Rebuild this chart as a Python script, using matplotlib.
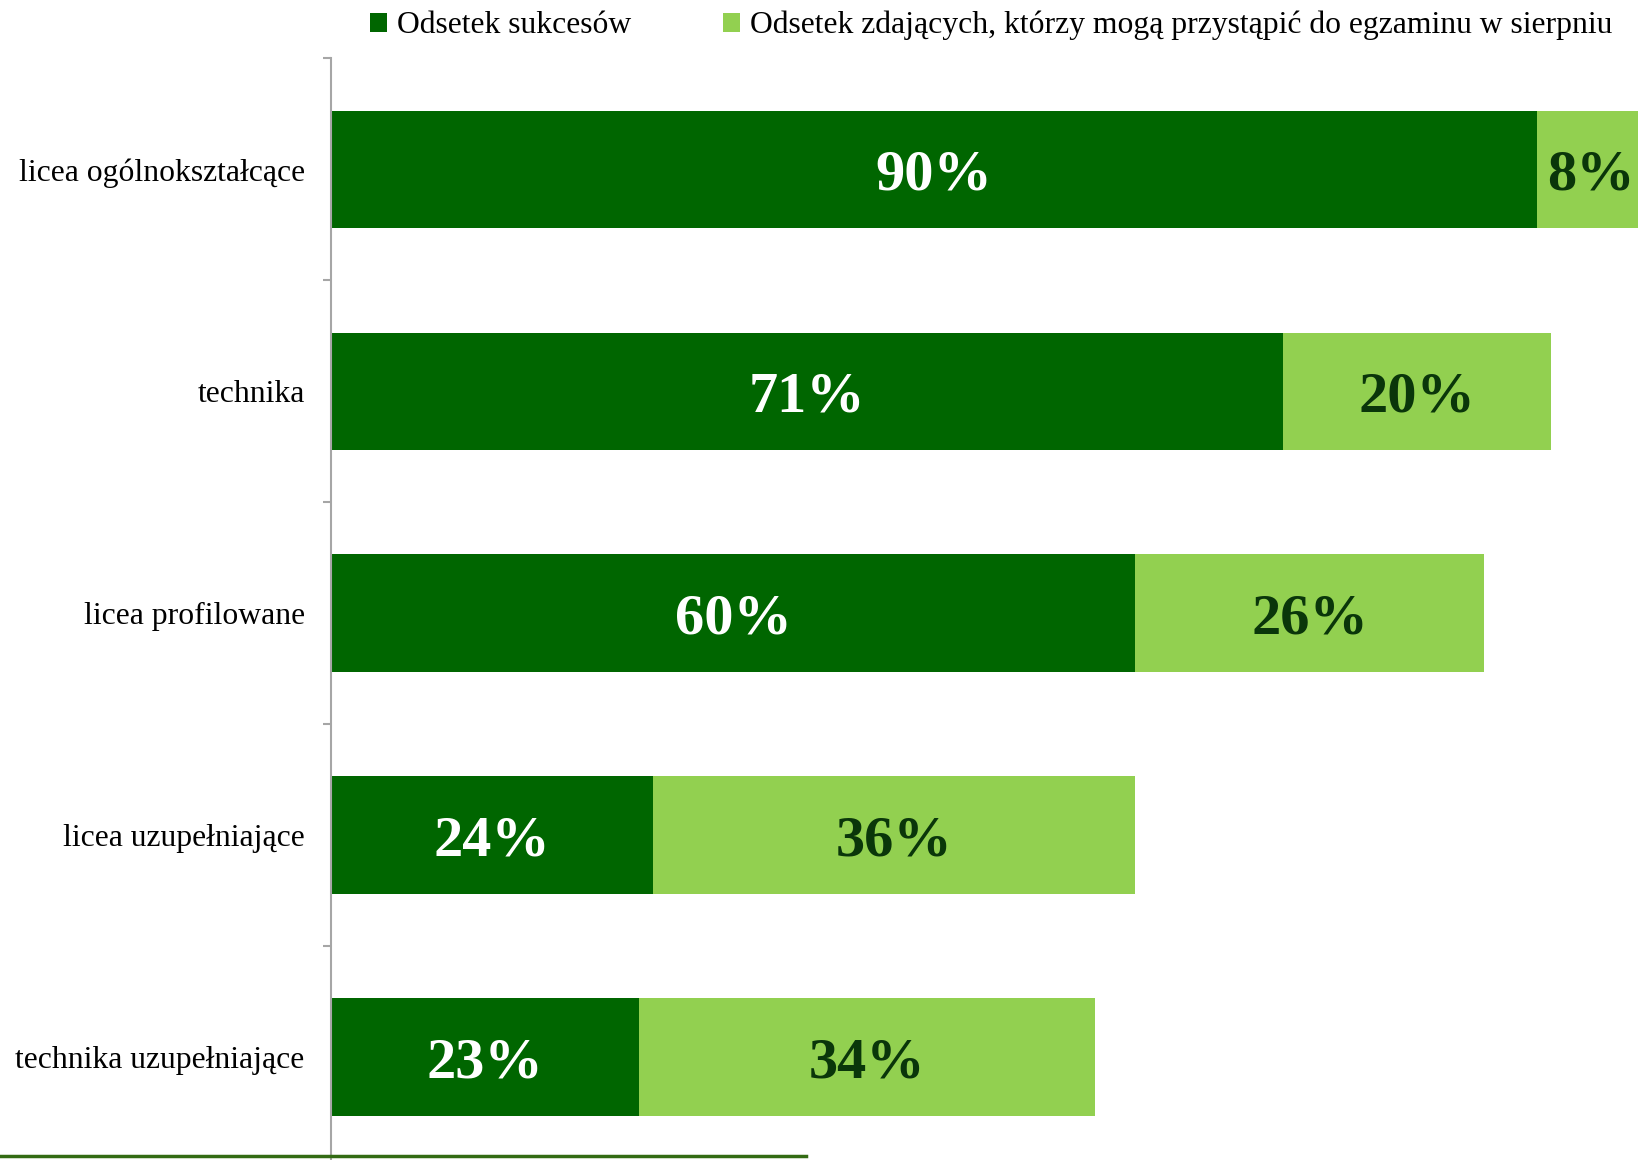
import matplotlib.pyplot as plt
from matplotlib.patches import Patch
from matplotlib.lines import Line2D

# Data
categories = ["licea ogólnokształcące", "technika", "licea profilowane",
              "licea uzupełniające", "technika uzupełniające"]
success = [90, 71, 60, 24, 23]
august = [8, 20, 26, 36, 34]
series_names = ["Odsetek sukcesów",
                "Odsetek zdających, którzy mogą przystąpić do egzaminu w sierpniu"]

DARK = "#006600"
LIGHT = "#92d050"

plt.rcParams["font.family"] = ["Liberation Serif", "DejaVu Serif"]

fig = plt.figure(figsize=(16.38, 11.60), dpi=100)
ax = fig.add_axes([0.2021, -0.0069, 0.7979, 0.9565])

y = range(len(categories))
ax.barh(y, success, height=0.53, color=DARK)
ax.barh(y, august, left=success, height=0.53, color=LIGHT)

for i, (s, a) in enumerate(zip(success, august)):
    ax.text(s / 2, i, f"{s}%", ha="center", va="center_baseline", color="white",
            fontsize=42, fontweight="bold")
    ax.text(s + a / 2, i, f"{a}%", ha="center", va="center_baseline",
            color="#0a360a", fontsize=42, fontweight="bold")

ax.set_xlim(0, 97.5)
ax.set_ylim(len(categories) - 0.5, -0.5)
ax.set_yticks(list(y))
ax.set_yticklabels(categories, fontsize=22.8)
ax.tick_params(axis="y", which="major", length=0, pad=19)
ax.set_yticks([i - 0.5 for i in range(len(categories) + 1)], minor=True)
ax.tick_params(axis="y", which="minor", length=6, width=1.5, color="#a6a6a6",
               direction="out")
ax.set_xticks([])
for side in ["top", "right", "bottom"]:
    ax.spines[side].set_visible(False)
ax.spines["left"].set_color("#a6a6a6")
ax.spines["left"].set_linewidth(1.5)

handles = [Patch(facecolor=DARK), Patch(facecolor=LIGHT)]
fig.legend(handles, series_names, loc="center", bbox_to_anchor=(0.605, 0.978),
           ncol=2, frameon=False, fontsize=22.8, handlelength=0.55,
           handleheight=0.55, handletextpad=0.3, columnspacing=2.9)

# decorative line along the bottom edge
fig.add_artist(Line2D([0, 0.492], [0.0034, 0.0034], color="#336b14",
                      linewidth=2.5, transform=fig.transFigure))

fig.savefig("out.png", dpi=100, facecolor="white")
